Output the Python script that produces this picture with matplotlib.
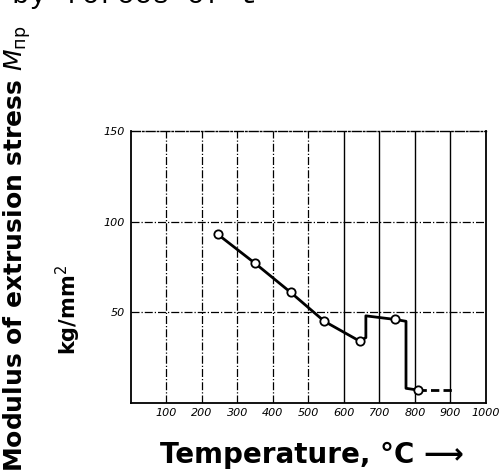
import matplotlib
matplotlib.use('Agg')
import matplotlib.pyplot as plt

# measured points (open circles)
temp_pts = [245, 350, 450, 545, 645, 745, 810]
stress_pts = [93, 77, 61, 45, 34, 46, 7]

# solid curve through the points, incl. the two jumps
curve_t = [245, 350, 450, 545, 645, 662, 662, 745, 775, 775, 810]
curve_s = [93, 77, 61, 45, 34, 36, 48, 46, 45, 8, 7]

# dashed tail
tail_t = [810, 910]
tail_s = [7, 7]

x_ticks = [100, 200, 300, 400, 500, 600, 700, 800, 900, 1000]
x_labels = ['100', '200', '300', '400', '500', '600', '700', '800', '900', '1000']
y_ticks = [50, 100, 150]
y_labels = ['50', '100', '150']

fig = plt.figure(figsize=(5.03, 4.75), dpi=100)
ax = fig.add_axes([0.260, 0.152, 0.706, 0.572])
ax.set_xlim(0, 1000)
ax.set_ylim(0, 150)

# grid: dash-dot on the left part, solid further right
for xv in x_ticks[:-1]:
    if xv <= 500:
        ax.axvline(xv, color='black', lw=0.9, ls='-.')
    else:
        ax.axvline(xv, color='black', lw=1.0, ls='-')
for yv in y_ticks[:-1]:
    ax.axhline(yv, color='black', lw=0.9, ls='-.')

ax.plot(curve_t, curve_s, color='black', lw=2.0, zorder=3)
ax.plot(tail_t, tail_s, color='black', lw=2.0, ls=(0, (3, 1.5)), zorder=3)
ax.plot(temp_pts, stress_pts, 'o', ms=6, mfc='white', mec='black', mew=1.3, zorder=4)

ax.set_xticks(x_ticks)
ax.set_xticklabels(x_labels, fontsize=8, style='italic')
ax.set_yticks(y_ticks)
ax.set_yticklabels(y_labels, fontsize=8, style='italic')
ax.tick_params(length=0, pad=4)

for side in ['left', 'bottom', 'right']:
    ax.spines[side].set_linewidth(1.3)
ax.spines['top'].set_linestyle('-.')
ax.spines['top'].set_linewidth(1.0)

# axis labels, hand-written style on the original
fig.text(17 / 503, 3 / 475, r'Modulus of extrusion stress $M_{\mathrm{пр}}$',
         rotation=90, ha='center', va='bottom', fontsize=18, fontweight='bold')
fig.text(68 / 503, 1 - 310 / 475, r'kg/mm$^2$', rotation=90,
         ha='center', va='center', fontsize=15, fontweight='bold')
fig.text(312 / 503, 1 - 455 / 475, 'Temperature, °C ⟶', ha='center', va='center',
         fontsize=20, fontweight='bold')

# cut-off line of the page text above
fig.text(12 / 503, 1 - 3 / 475, 'by forces of t', family='Liberation Mono',
         fontsize=21, ha='left', va='baseline')

fig.savefig('out.png', dpi=100)
